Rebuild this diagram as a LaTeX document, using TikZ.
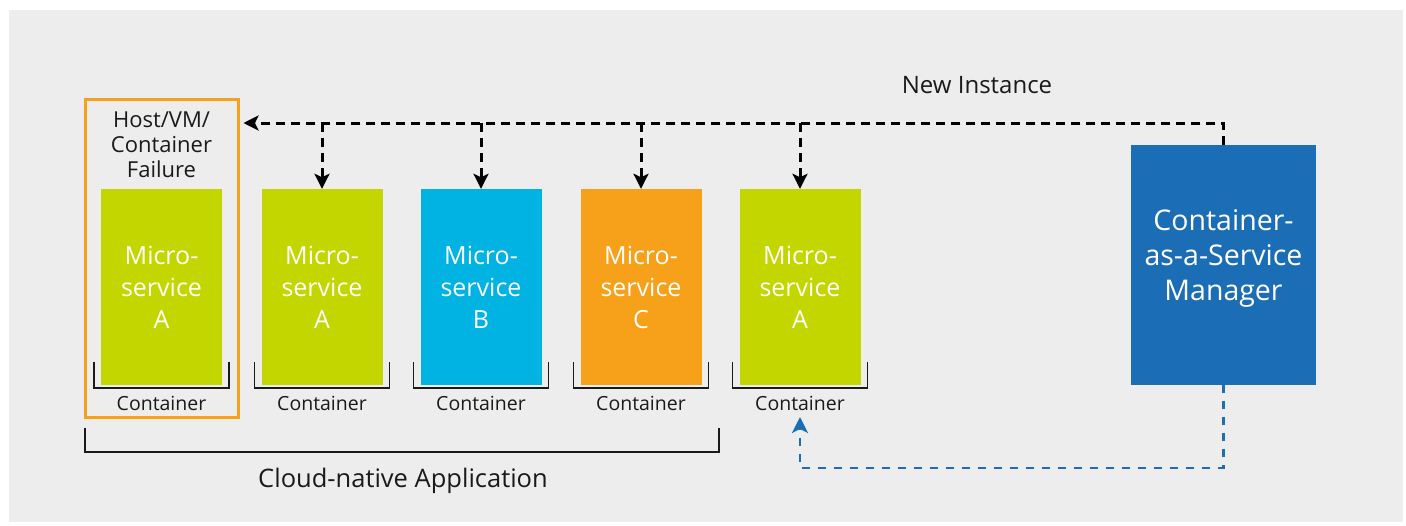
\documentclass[tikz,border=0pt]{standalone}
\usepackage{fontspec}
\setmainfont{Open Sans}
\usetikzlibrary{arrows.meta}

\definecolor{panel}{HTML}{EDEDED}
\definecolor{lime}{HTML}{C4D600}
\definecolor{skyb}{HTML}{00B3E3}
\definecolor{amber}{HTML}{F7A11A}
\definecolor{caasblue}{HTML}{1B6EB5}
\definecolor{ink}{HTML}{1A1A1A}

\begin{document}
\begin{tikzpicture}[x=1pt,y=-1pt,
  svc/.style={minimum width=121pt, minimum height=196pt, inner sep=0pt,
    text=white, align=center, font=\fontsize{25}{32}\selectfont},
  ctlabel/.style={anchor=base, text=ink, inner sep=0pt, font=\fontsize{19.5}{22}\selectfont},
  bracketline/.style={draw=ink, line width=1.5pt},
  newinst/.style={draw=black, line width=3pt, dash pattern=on 9pt off 6pt},
  spawn/.style={draw=caasblue, line width=2.8pt, dash pattern=on 8pt off 8pt},
  tipk/.style={-{Stealth[length=15pt,width=15pt,inset=3.5pt]}},
]
\useasboundingbox (0,0) rectangle (1406,525);
\fill[panel] (9,10) rectangle (1403,522);

% failed host frame
\node[draw=amber, line width=3pt, minimum width=153pt, minimum height=318pt,
      inner sep=0pt] (failure) at (161.5,258) {};
\node[align=center, text=ink, inner sep=0pt, font=\fontsize{22}{25}\selectfont]
  (failtext) at (161.5,145) {Host/VM/\\Container\\Failure};

% microservice containers
\node[svc, fill=lime]  (m1) at (161.5,287) {Micro-\\service\\A};
\node[svc, fill=lime]  (m2) at (322,287)   {Micro-\\service\\A};
\node[svc, fill=skyb]  (m3) at (481,287)   {Micro-\\service\\B};
\node[svc, fill=amber] (m4) at (641,287)   {Micro-\\service\\C};
\node[svc, fill=lime]  (m5) at (800,287)   {Micro-\\service\\A};

% container brackets and labels
\foreach \m in {m1,m2,m3,m4,m5}{
  \draw[bracketline] ([xshift=-7pt]\m.south west |- 0,362) |- ([xshift=7pt]\m.south east |- 0,388)
                     -- ([xshift=7pt]\m.south east |- 0,362);
  \node[ctlabel] (\m-ct) at (\m.south |- 0,410) {Container};
}

% container-as-a-service manager
\node[fill=caasblue, minimum width=185pt, minimum height=240pt, inner sep=0pt]
  (caas) at (1223.5,265) {};
\node[align=center, text=white, inner sep=0pt, font=\fontsize{28.5}{35}\selectfont]
  (caastext) at (1223.5,258) {Container-\\as-a-Service\\Manager};

% application bracket
\draw[bracketline] (85,428) |- (719,452) -- (719,428);
\node[anchor=base, text=ink, inner sep=0pt, font=\fontsize{25.5}{29}\selectfont]
  (app) at (403,487) {Cloud-native Application};

% new instance signalling
\node[anchor=base, text=ink, inner sep=0pt, font=\fontsize{24}{28}\selectfont]
  (newlbl) at (977,93) {New Instance};
\coordinate (hub) at (1223.5,123);
\draw[newinst, tipk] (caas.north) -- (caas.north |- hub) -- ([xshift=4pt]failure.east |- hub);
\foreach \m in {m2,m3,m4,m5}{
  \draw[newinst, tipk] (\m.north |- hub) -- (\m.north);
}

% spawning the new container
\coordinate (spawnpt) at (800,417);
\draw[spawn, -{Stealth[length=16pt,width=16pt,inset=4pt]}]
  (caas.south) -- (caas.south |- 0,468) -- (spawnpt |- 0,468) -- (spawnpt);
\end{tikzpicture}
\end{document}
